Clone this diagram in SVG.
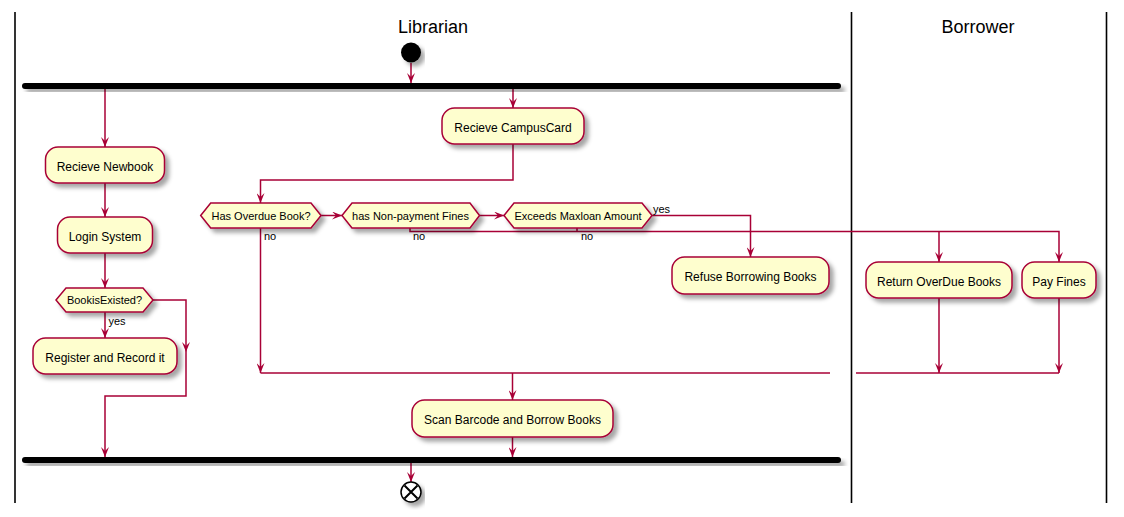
<svg xmlns="http://www.w3.org/2000/svg" width="1124" height="517" viewBox="0 0 1124 517">
<style>
.lane{stroke:#000;stroke-width:1.6;fill:none}
.title{font-family:"Liberation Sans",Arial,sans-serif;font-size:18px;fill:#000;text-anchor:middle}
.box{fill:#FEFECE;stroke:#A80036;stroke-width:1.5;filter:url(#sh)}
.t{font-family:"Liberation Sans",Arial,sans-serif;font-size:12px;fill:#000;text-anchor:middle}
.ht{font-family:"Liberation Sans",Arial,sans-serif;font-size:11px;fill:#000;text-anchor:middle}
.lbl{font-family:"Liberation Sans",Arial,sans-serif;font-size:11px;fill:#000}
.c{stroke:#A80036;stroke-width:1.5;fill:none}
.a{marker-end:url(#ah)}
.bar{fill:#000;filter:url(#sh)}
</style>
<defs>
<filter id="sh" x="-20%" y="-40%" width="140%" height="180%">
<feGaussianBlur in="SourceAlpha" stdDeviation="2"/>
<feOffset dx="4" dy="4" result="o"/>
<feFlood flood-color="#000" flood-opacity="0.35"/>
<feComposite in2="o" operator="in"/>
<feMerge><feMergeNode/><feMergeNode in="SourceGraphic"/></feMerge>
</filter>
<marker id="ah" viewBox="0 0 10 8" refX="10" refY="4" markerWidth="10" markerHeight="8" markerUnits="userSpaceOnUse" orient="auto">
<path d="M0,0 L10,4 L0,8 L4,4 Z" fill="#A80036"/>
</marker>
</defs>
<g id="lanes">
<line class="lane" x1="15" y1="12" x2="15" y2="503"/>
<line class="lane" x1="851.5" y1="12" x2="851.5" y2="503"/>
<line class="lane" x1="1106.5" y1="12" x2="1106.5" y2="503"/>
<text class="title" x="433" y="33">Librarian</text>
<text class="title" x="978" y="33">Borrower</text>
</g>
<g id="connectors">
<path class="c a" d="M411,63 V83"/>
<path class="c a" d="M105,89 V147"/>
<path class="c a" d="M513,89 V108"/>
<path class="c a" d="M105,183 V217"/>
<path class="c a" d="M105,253 V288"/>
<path class="c a" d="M105,312 V338"/>
<path class="c a" d="M153,300 H186 V352"/>
<path class="c a" d="M186,352 V396 H105 V457"/>
<path class="c a" d="M513,144 V180 H260.5 V203"/>
<path class="c a" d="M321,215.5 H342"/>
<path class="c a" d="M479.5,215.5 H504"/>
<path class="c a" d="M652,215.5 H750.5 V257"/>
<path class="c a" d="M410,228 V231.5 H1059 V262"/>
<path class="c" d="M577,228 V231.5"/>
<path class="c a" d="M939,231.5 V262"/>
<path class="c a" d="M260.5,228 V373"/>
<path class="c" d="M260.5,373 H830"/>
<path class="c" d="M856,373 H1059"/>
<path class="c a" d="M939,298 V373"/>
<path class="c a" d="M1059,298 V373"/>
<path class="c a" d="M512.5,373 V400"/>
<path class="c a" d="M512.5,437 V457"/>
<path class="c a" d="M411,463 V482"/>
<text class="lbl" x="108.5" y="325">yes</text>
<text class="lbl" x="264" y="240">no</text>
<text class="lbl" x="413" y="240">no</text>
<text class="lbl" x="581" y="240">no</text>
<text class="lbl" x="653" y="213">yes</text>
</g>
<g id="start"><circle cx="411" cy="52.5" r="10" fill="#000" filter="url(#sh)"/></g>
<g id="fork1"><rect class="bar" x="22" y="83" width="819" height="6" rx="3"/></g>
<g id="fork2"><rect class="bar" x="22" y="457" width="819" height="6" rx="3"/></g>
<g id="end">
<circle cx="411" cy="492" r="10" fill="#fff" stroke="#000" stroke-width="1.5" filter="url(#sh)"/>
<path d="M404.5,485.5 L417.5,498.5 M417.5,485.5 L404.5,498.5" stroke="#000" stroke-width="2"/>
</g>
<g id="recieve-newbook"><rect class="box" x="45.5" y="147" width="119" height="36" rx="12.5"/><text class="t" x="105" y="170.5">Recieve Newbook</text></g>
<g id="login-system"><rect class="box" x="57.5" y="217" width="95" height="36" rx="12.5"/><text class="t" x="105" y="240.5">Login System</text></g>
<g id="bookisexisted"><polygon class="box" points="56,300 66,288 143,288 153,300 143,312 66,312"/><text class="ht" x="104.5" y="304">BookisExisted?</text></g>
<g id="register-record"><rect class="box" x="33" y="338" width="144" height="36" rx="12.5"/><text class="t" x="105" y="361.5">Register and Record it</text></g>
<g id="recieve-campuscard"><rect class="box" x="442" y="108" width="142" height="36" rx="12.5"/><text class="t" x="513" y="131.5">Recieve CampusCard</text></g>
<g id="has-overdue"><polygon class="box" points="200.7,215.5 210.7,203 311,203 321,215.5 311,228 210.7,228"/><text class="ht" x="261" y="219.5">Has Overdue Book?</text></g>
<g id="has-fines"><polygon class="box" points="342,215.5 352,203 470,203 479.5,215.5 470,228 352,228"/><text class="ht" x="410.5" y="219.5">has Non-payment Fines</text></g>
<g id="exceeds"><polygon class="box" points="504,215.5 514,203 642,203 652,215.5 642,228 514,228"/><text class="ht" x="578" y="219.5">Exceeds Maxloan Amount</text></g>
<g id="refuse"><rect class="box" x="672" y="257" width="157" height="37" rx="12.5"/><text class="t" x="750.5" y="281">Refuse Borrowing Books</text></g>
<g id="return-overdue"><rect class="box" x="866" y="262" width="146" height="36" rx="12.5"/><text class="t" x="939" y="285.5">Return OverDue Books</text></g>
<g id="pay-fines"><rect class="box" x="1022" y="262" width="74" height="36" rx="12.5"/><text class="t" x="1059" y="285.5">Pay Fines</text></g>
<g id="scan-borrow"><rect class="box" x="412" y="400" width="201" height="37" rx="12.5"/><text class="t" x="512.5" y="424">Scan Barcode and Borrow Books</text></g>
</svg>
